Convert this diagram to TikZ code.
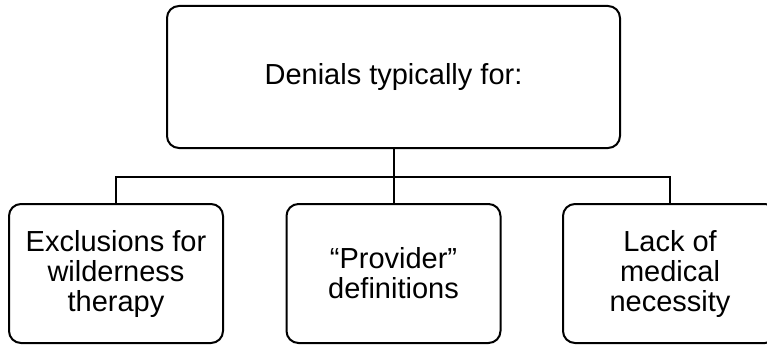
\documentclass[tikz,border=0pt]{standalone}
\usepackage{fontspec}
\setmainfont{Liberation Sans}
\begin{document}
\begin{tikzpicture}[x=0.75pt,y=-0.75pt,
  box/.style={draw=black, line width=1.5pt, rounded corners=9pt, align=center,
    font=\fontsize{21.75pt}{22.5pt}\selectfont, inner sep=0pt},
  topbox/.style={box, minimum width=339.75pt, minimum height=106.5pt},
  subbox/.style={box, minimum width=160.5pt, minimum height=104.25pt},
  link/.style={draw=black, line width=1.5pt}]
\useasboundingbox (0,0) rectangle (767,346);
\clip (0,0) rectangle (767,346);
\node[topbox] (top) at (393.5,77) {Denials typically for:};
\node[subbox] (left) at (116,273.5) {Exclusions for\\wilderness\\therapy};
\node[subbox] (mid) at (393.5,273.5) {“Provider”\\definitions};
\node[subbox] (right) at (670,273.5) {Lack of\\medical\\necessity};
\coordinate (bus) at (393.5,177);
\draw[link] (top.south) -- (mid.north);
\draw[link] (left.north) -- (left.north |- bus) -- (right.north |- bus) -- (right.north);
\end{tikzpicture}
\end{document}
